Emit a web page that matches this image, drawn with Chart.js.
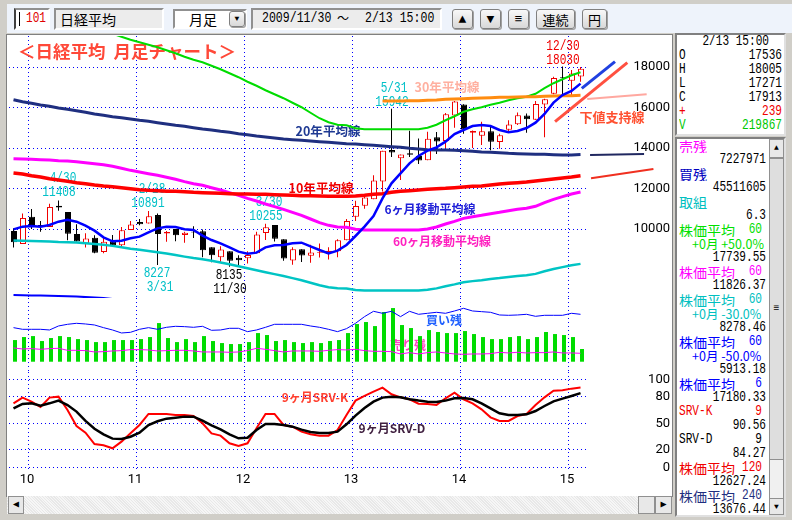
<!DOCTYPE html>
<html lang="ja">
<head>
<meta charset="utf-8">
<title>日経平均 月足チャート</title>
<script src="https://cdn.jsdelivr.net/npm/chart.js@4"></script>
<style>
html, body { margin: 0; padding: 0; }
body { width: 792px; height: 520px; overflow: hidden; position: relative; background: #d0cec8;
  font-family: "Liberation Mono", monospace; font-size: 15px; color: #000; }
.abs { position: absolute; box-sizing: border-box; white-space: nowrap; }
.sq { transform: scaleX(0.74); transform-origin: left center; display: inline-block; }
.sqr { transform: scaleX(0.74); transform-origin: right center; display: inline-block; }
#toolbar { left: 7px; top: 4px; width: 785px; height: 29px; background: #eef3fb; }
.well { background: #ececec; border: 2px solid; border-color: #909090 #fff #fff #909090; line-height: 18px; padding-left: 4px; }
.btn { background: linear-gradient(#f8f8f8, #d8d8d8); border: 1px solid #808080; border-radius: 3px; text-align: center; line-height: 19px; font-size: 13px; box-shadow: 1px 1px 0 #a0a0a0; }
#plot { left: 6px; top: 34px; width: 667px; height: 463px; background: #fff; border: 1px solid #808080; }
canvas { position: absolute; left: 0; }
#hbar { left: 7px; top: 496px; width: 665px; height: 18px;
  background: repeating-linear-gradient(45deg, #f6f6f6 0 1px, #e8e8e8 1px 2px); }
.sbtn { background: #e8e8e8; border: 1px solid #909090; text-align: center; font-size: 10px; line-height: 16px; }
.panel { background: #fff; border: 2px solid; border-color: #808080 #e0e0e0 #e0e0e0 #808080; overflow: hidden; }
.row { position: absolute; left: 0; height: 14px; line-height: 14px; white-space: nowrap; overflow: hidden; }
.row span { position: absolute; }
.cjk { font-family: "Noto Sans CJK JP", sans-serif; font-size: 14px; }
.mix { font-family: "Noto Sans CJK JP", sans-serif; font-size: 12.5px; }
</style>
</head>
<body>
<div class="abs" id="toolbar"></div>
<div class="abs well" style="left:14px;top:8px;width:36px;height:22px;background:#fff;padding-left:4px;border-left-color:#404040;"><span class="sq" style="color:#e00000;margin-left:6px;">101</span></div>
<div class="abs" style="left:19px;top:12px;width:1px;height:14px;background:#000;"></div>
<div class="abs well cjk" style="left:54px;top:8px;width:110px;height:22px;">日経平均</div>
<div class="abs well cjk" style="left:173px;top:9px;width:74px;height:20px;background:#fff;padding-left:14px;line-height:16px;">月足</div>
<div class="abs btn" style="left:229px;top:11px;width:16px;height:16px;font-size:8px;line-height:14px;">▼</div>
<div class="abs well" style="left:251px;top:8px;width:191px;height:22px;"></div>
<div class="abs sq" style="left:262px;top:10px;line-height:18px;transform:scaleX(0.77);">2009/11/30</div>
<div class="abs cjk" style="left:337px;top:9px;line-height:18px;font-size:12px;">～</div>
<div class="abs sq" style="left:365px;top:10px;line-height:18px;transform:scaleX(0.77);">2/13 15:00</div>
<div class="abs btn" style="left:452px;top:9px;width:21px;height:20px;">▲</div>
<div class="abs btn" style="left:480px;top:9px;width:21px;height:20px;">▼</div>
<div class="abs btn" style="left:508px;top:9px;width:21px;height:20px;">≡</div>
<div class="abs btn cjk" style="left:536px;top:9px;width:39px;height:20px;font-size:13px;">連続</div>
<div class="abs btn cjk" style="left:582px;top:9px;width:25px;height:20px;font-size:13px;">円</div>

<div class="abs" id="plot"></div>
<canvas id="priceChart" width="670" height="262" style="top:36px;width:670px;height:262px"></canvas>
<canvas id="volumeChart" width="670" height="74" style="top:298px;width:670px;height:74px"></canvas>
<canvas id="srvChart" width="670" height="118" style="top:372px;width:670px;height:118px"></canvas>

<div class="abs" id="hbar"></div>
<div class="abs sbtn" style="left:8px;top:496px;width:16px;height:18px;">◀</div>
<div class="abs sbtn" style="left:638px;top:496px;width:17px;height:18px;"></div>
<div class="abs sbtn" style="left:655px;top:496px;width:17px;height:18px;">▶</div>

<div class="abs panel" id="quote" style="left:675px;top:33px;width:111px;height:103px;"></div>
<div class="abs panel" id="list" style="left:675px;top:137px;width:111px;height:380px;"></div>
<div class="abs sbtn" style="left:769px;top:139px;width:15px;height:376px;background:#f0f0f0;"></div>
<div class="abs sbtn" style="left:769px;top:139px;width:15px;height:19px;font-size:8px;">▲</div>
<div class="abs sbtn" style="left:769px;top:158px;width:15px;height:302px;background:#dedede;line-height:300px;">≡</div>
<div class="abs sbtn" style="left:769px;top:498px;width:15px;height:17px;font-size:8px;">▼</div>

<script>
// monthly candles, 2009/11 to 2015/02
const opens = [9900, 9260, 10609, 10200, 10100, 11150, 10840, 9750, 9290, 9570, 8860, 9400, 9200, 9950, 10350, 10270,
    10690, 9780, 10000, 9700, 9870, 9890, 9100, 8600, 8900, 8580, 8550, 8800, 9800, 10200, 9500, 8450,
    9000, 8680, 8830, 8850, 8900, 9450, 10600, 11150, 11470, 12340, 13900, 13500, 13740, 13600, 13400, 14530,
    14350, 15600, 16147, 14750, 14600, 14830, 14300, 14900, 15170, 15600, 15400, 16150, 16680, 17500, 17325, 17536];
const highs = [10034, 10767, 10982, 10400, 11250, 11408, 10840, 10238, 9790, 9690, 9550, 9700, 10100, 10400, 10500, 10891,
    10770, 9900, 10000, 9870, 10137, 9970, 9100, 9152, 8900, 8700, 8900, 9870, 10255, 10200, 9500, 9100,
    9000, 9220, 9288, 9100, 9500, 10500, 11400, 11700, 12650, 13860, 15942, 13680, 14850, 14467, 14800, 14790,
    15727, 16320, 16164, 14870, 15300, 15100, 14700, 15376, 15759, 15700, 16321, 16430, 17520, 18030, 17850, 18005];
const lows = [9090, 9260, 10000, 9867, 10100, 10900, 9450, 9380, 9091, 8800, 8800, 9200, 9100, 9950, 10180, 10270,
    8227, 9375, 9400, 9318, 9550, 8600, 8359, 8343, 8135, 8160, 8300, 8800, 9460, 9380, 8430, 8238,
    8365, 8328, 8595, 8500, 8600, 9450, 10400, 11000, 11470, 11850, 13555, 12415, 13560, 13210, 13400, 13700,
    14000, 15000, 14700, 13995, 14150, 13885, 13964, 14800, 15131, 14753, 15400, 14529, 16650, 16600, 16592, 17271];
const closes = [9345, 10546, 10198, 10126, 11089, 11057, 9768, 9382, 9537, 8824, 9369, 9202, 9937, 10228, 10237, 10624,
    9755, 9849, 9693, 9816, 9833, 8955, 8700, 8988, 8434, 8455, 8720, 9723, 10083, 9520, 8542, 9006,
    8695, 8839, 8870, 8928, 9446, 10395, 11138, 11559, 12397, 13860, 13774, 13677, 13668, 13388, 14455, 14327,
    15661, 16291, 14914, 14841, 14827, 14304, 14632, 15162, 15620, 15424, 16173, 16413, 17459, 17450, 17674, 17913];

// moving averages
const ma6 = [9984, 10116, 10149, 10116, 10198, 10363, 10461, 10363, 10165, 9918, 9589, 9391, 9424, 9540, 9622, 9836,
    10033, 10116, 10099, 9984, 9951, 9671, 9457, 9293, 9095, 8881, 8782, 8832, 9095, 9194, 9210, 9293,
    9326, 9145, 8963, 8799, 8931, 9210, 9655, 10116, 10642, 11515, 12255, 12749, 13243, 13605, 13869, 14033,
    14313, 14692, 14889, 15087, 15136, 15087, 14889, 14774, 14840, 14988, 15251, 15679, 16239, 16617, 16815, 17180];
const ma60 = [13473, 13457, 13441, 13424, 13408, 13375, 13358, 13325, 13276, 13227, 13177, 13095, 12996, 12897, 12815, 12733,
    12650, 12552, 12453, 12338, 12239, 12157, 12041, 11926, 11795, 11663, 11515, 11383, 11235, 11103, 10972, 10823,
    10675, 10494, 10313, 10181, 10099, 10083, 9984, 9951, 9951, 9951, 9951, 9951, 9951, 9951, 10000, 10099,
    10247, 10379, 10527, 10609, 10675, 10758, 10823, 10906, 10972, 11021, 11120, 11301, 11465, 11597, 11729, 11827];
const ma60Plus50 = [20210, 20186, 20162, 20136, 20112, 20063, 20037, 19988, 19914, 19841, 19766, 19643, 19494, 19346, 19223, 19100,
    18975, 18828, 18680, 18507, 18359, 18236, 18062, 17889, 17693, 17495, 17273, 17075, 16853, 16655, 16458, 16235,
    16013, 15741, 15470, 15272, 15149, 15125, 14976, 14927, 14927, 14927, 14927, 14927, 14927, 14927, 15000, 15149,
    15371, 15569, 15791, 15914, 16013, 16137, 16235, 16359, 16458, 16532, 16680, 16952, 17198, 17396, 17594, 17740];
const ma60Minus30 = [9431, 9420, 9409, 9397, 9386, 9363, 9351, 9328, 9293, 9259, 9224, 9167, 9097, 9028, 8971, 8913,
    8855, 8786, 8717, 8637, 8567, 8510, 8429, 8348, 8257, 8164, 8061, 7968, 7865, 7772, 7680, 7576,
    7473, 7346, 7219, 7127, 7069, 7058, 6989, 6966, 6966, 6966, 6966, 6966, 6966, 6966, 7000, 7069,
    7173, 7265, 7369, 7426, 7473, 7531, 7576, 7634, 7680, 7715, 7784, 7911, 8026, 8118, 8210, 8278];
const ma60Minus50 = [6737, 6729, 6721, 6712, 6704, 6688, 6679, 6663, 6638, 6614, 6589, 6548, 6498, 6449, 6408, 6367,
    6325, 6276, 6227, 6169, 6120, 6079, 6021, 5963, 5898, 5832, 5758, 5692, 5618, 5552, 5486, 5412,
    5338, 5247, 5157, 5091, 5050, 5042, 4992, 4976, 4976, 4976, 4976, 4976, 4976, 4976, 5000, 5050,
    5124, 5190, 5264, 5305, 5338, 5379, 5412, 5453, 5486, 5511, 5560, 5651, 5733, 5799, 5865, 5913];
const ma120 = [12766, 12716, 12634, 12568, 12486, 12420, 12354, 12288, 12239, 12173, 12124, 12091, 12041, 11992, 11943, 11910,
    11893, 11860, 11860, 11844, 11811, 11795, 11778, 11762, 11745, 11729, 11729, 11712, 11712, 11696, 11679, 11663,
    11646, 11646, 11630, 11614, 11614, 11614, 11630, 11663, 11712, 11745, 11811, 11860, 11893, 11926, 11959, 11992,
    12009, 12041, 12074, 12107, 12124, 12173, 12223, 12255, 12288, 12321, 12371, 12420, 12469, 12519, 12568, 12627];
const ma240 = [16387, 16288, 16206, 16124, 16058, 15975, 15910, 15844, 15761, 15679, 15613, 15547, 15498, 15432, 15366, 15317,
    15251, 15185, 15120, 15070, 15004, 14938, 14889, 14823, 14774, 14708, 14659, 14593, 14543, 14494, 14445, 14412,
    14379, 14346, 14313, 14280, 14247, 14214, 14198, 14165, 14132, 14099, 14066, 14033, 13984, 13951, 13918, 13901,
    13901, 13885, 13869, 13836, 13803, 13786, 13770, 13737, 13720, 13704, 13687, 13687, 13671, 13655, 13655, 13676];
// starts at the 2013/04 candle
const ma360Start = 41;
const ma360 = [16321, 16321, 16321, 16338, 16338, 16354, 16370, 16403, 16420, 16436, 16453, 16469, 16486, 16502, 16502, 16519,
    16535, 16535, 16552, 16568, 16584, 16584, 16601];

// lines drawn by hand past the last candle: [month, price, month, price]
const handBlue = [63.14, 16948, 66.83, 18262];
const handSupport = [60.17, 15299, 68.2, 18212];
const hand30y = [63.75, 16420, 70.35, 16652];
const hand20y = [64.06, 13654, 70.06, 13704];
const hand10y = [64.17, 12504, 71.1, 12963];

// volume panel
const volumes = [375000, 427000, 444000, 358000, 410000, 444000, 427000, 392000, 375000, 340000, 340000, 375000, 375000, 375000, 392000, 427000,
    669000, 410000, 340000, 392000, 340000, 444000, 358000, 323000, 306000, 306000, 340000, 496000, 462000, 358000, 375000, 340000,
    323000, 340000, 323000, 358000, 375000, 496000, 652000, 687000, 617000, 860000, 929000, 635000, 583000, 444000, 548000, 514000,
    496000, 496000, 531000, 479000, 427000, 392000, 392000, 427000, 444000, 392000, 427000, 514000, 479000, 462000, 427000, 219867];
const buyRemain = [39510, 38760, 38760, 38760, 38460, 40260, 41010, 41460, 41160, 40710, 39510, 38460, 37110, 37410, 38760, 39510,
    38760, 39660, 40110, 39960, 39660, 40110, 38310, 38460, 39210, 39210, 37710, 38460, 39660, 41010, 41010, 41010,
    41010, 40260, 39660, 38760, 37710, 39060, 41460, 44460, 46860, 45960, 46860, 44460, 46860, 45510, 45960, 46410,
    45960, 47010, 48210, 47010, 46710, 46410, 45210, 45060, 45210, 45510, 44610, 45060, 45060, 45060, 45960, 45512];
const sellRemain = [8830, 8530, 8630, 8430, 8630, 8730, 8130, 8130, 8030, 7630, 7730, 7930, 8030, 8330, 8330, 8230,
    7930, 8030, 8130, 8130, 7930, 7630, 7630, 7630, 7530, 7630, 8030, 8730, 8430, 8030, 7630, 7930,
    7930, 7930, 7830, 8130, 8330, 8230, 8430, 8030, 7830, 7830, 7730, 7030, 7430, 7030, 7430, 7630,
    7330, 7030, 6930, 7030, 7030, 7130, 7530, 7330, 7530, 7330, 7430, 7430, 7630, 7330, 7330, 7228];

// SRV oscillator
const srvK = [72.7, 79.2, 74.6, 68.6, 79.2, 80.3, 65.2, 47.0, 39.4, 26.5, 25.0, 21.6, 29.2, 38.6, 48.1, 60.6,
    60.6, 60.6, 59.5, 59.5, 58.3, 50.0, 38.6, 36.0, 27.3, 24.2, 27.3, 44.3, 60.6, 60.6, 48.1, 46.2,
    40.5, 37.5, 36.0, 36.0, 42.4, 59.5, 75.8, 81.1, 86.0, 90.5, 83.0, 79.5, 77.3, 72.3, 72.0, 70.8,
    78.4, 84.8, 77.3, 72.7, 65.9, 56.8, 52.7, 52.7, 58.3, 60.6, 70.8, 79.5, 87.1, 87.5, 89.4, 90.56];
const srvD = [67.0, 72.0, 72.7, 70.1, 72.7, 75.8, 70.8, 63.3, 52.7, 43.9, 37.5, 32.6, 32.2, 34.8, 39.4, 48.1,
    52.3, 55.3, 56.4, 57.6, 57.6, 53.0, 47.7, 43.2, 37.5, 33.0, 33.7, 42.4, 49.2, 49.2, 48.1, 46.2,
    42.8, 40.2, 39.0, 39.0, 40.5, 48.9, 58.7, 67.4, 74.6, 79.2, 80.3, 79.5, 77.3, 75.8, 74.6, 74.2,
    75.8, 78.4, 78.8, 77.3, 72.7, 67.0, 61.4, 59.5, 59.5, 60.2, 64.0, 69.7, 75.0, 78.0, 81.1, 84.27];

const yearLabels = ['10', '11', '12', '13', '14', '15'];
const priceTicks = [10000, 12000, 14000, 16000, 18000];
const srvTicks = [0, 20, 50, 80, 100];

// side panels
const quoteRows = [['O', '17536', '#000'], ['H', '18005', '#000'], ['L', '17271', '#000'],
    ['C', '17913', '#000'], ['+', '239', '#f00000'], ['V', '219867', '#00c800']];
const listRows = [
    ['売残', '', '#ff00ff'], ['', '7227971', '#000'],
    ['買残', '', '#0000c0'], ['', '45511605', '#000'],
    ['取組', '', '#00c0c0'], ['', '6.3', '#000'],
    ['株価平均', '60', '#00e000'], ['>+0月 +50.0%', '', '#00e000'], ['', '17739.55', '#000'],
    ['株価平均', '60', '#ff00ff'], ['', '11826.37', '#000'],
    ['株価平均', '60', '#00c0c0'], ['>+0月 -30.0%', '', '#00c0c0'], ['', '8278.46', '#000'],
    ['株価平均', '60', '#0000ff'], ['>+0月 -50.0%', '', '#0000ff'], ['', '5913.18', '#000'],
    ['株価平均', '6', '#0000ff'], ['', '17180.33', '#000'],
    ['SRV-K', '9', '#f00000'], ['', '90.56', '#000'],
    ['SRV-D', '9', '#000'], ['', '84.27', '#000'],
    ['株価平均', '120', '#f00000'], ['', '12627.24', '#000'],
    ['株価平均', '240', '#1f2f80'], ['', '13676.44', '#000']
];

const tickFont = 'Roboto, sans-serif';
const mono = '"Liberation Mono", monospace';
const jp = '"Noto Sans CJK JP", sans-serif';

function series(values, start) {
    return values.map((y, i) => ({ x: i + (start || 0), y: y }));
}

function handLine(p, color, width) {
    return {
        type: 'line', data: [{ x: p[0], y: p[1] }, { x: p[2], y: p[3] }],
        borderColor: color, borderWidth: width, pointRadius: 0, clip: false, order: 1
    };
}

function maLine(values, color, width, order, start) {
    return {
        type: 'line', data: series(values, start), borderColor: color, borderWidth: width,
        pointRadius: 0, tension: 0, order: order
    };
}

const candleColor = (i) => closes[i] >= opens[i] ? '#f00000' : '#000';

const wicks = {
    type: 'bar', grouped: false, order: 21, barThickness: 1, inflateAmount: 0,
    data: highs.map((h, i) => ({ x: i, y: [lows[i], h] })),
    backgroundColor: highs.map((h, i) => candleColor(i))
};
const bodies = {
    type: 'bar', grouped: false, order: 20, barThickness: 6, inflateAmount: 0, borderWidth: 1, borderSkipped: false,
    data: opens.map((o, i) => ({ x: i + 0.055, y: [o, closes[i]] })),
    backgroundColor: opens.map((o, i) => closes[i] >= o ? '#fff' : '#000'),
    borderColor: opens.map((o, i) => candleColor(i))
};

// text that sits on the chart, drawn under the lines
const notesPlugin = {
    id: 'notes',
    beforeDatasetsDraw(chart, args, opts) {
        const ctx = chart.ctx;
        ctx.textAlign = 'center';
        ctx.textBaseline = 'middle';
        opts.items.forEach(n => {
            ctx.save();
            ctx.font = n[4];
            ctx.fillStyle = n[3];
            ctx.translate(n[1], n[2] - opts.top);
            if (n[4] === tag) ctx.scale(0.74, 1);
            ctx.fillText(n[0], 0, 0);
            ctx.restore();
        });
    }
};

const cyanNum = '#00c0c8';
const tag = '15px ' + mono;
const bold = (s) => 'bold ' + s + 'px ' + jp;

const priceNotes = [
    ['＜日経平均  月足チャート＞', 127, 51, '#ff4838', bold(17.5)],
    ['4/30', 63, 178, cyanNum, tag], ['11408', 59, 192, cyanNum, tag],
    ['2/28', 152, 189, cyanNum, tag], ['10891', 148, 203, cyanNum, tag],
    ['8227', 157, 273, cyanNum, tag], ['3/31', 160, 287, cyanNum, tag],
    ['8135', 229, 275, '#000', tag], ['11/30', 230, 289, '#000', tag],
    ['3/30', 269, 202, cyanNum, tag], ['10255', 266, 216, cyanNum, tag],
    ['5/31', 394, 88, cyanNum, tag], ['15942', 392, 102, cyanNum, tag],
    ['12/30', 563, 46, '#f00000', tag], ['18030', 563, 60, '#f00000', tag],
    ['30年平均線', 447, 87, '#ffb0a0', bold(12.5)],
    ['20年平均線', 328, 131, '#1f3a93', bold(12.5)],
    ['10年平均線', 321, 188, '#f00000', bold(12.5)],
    ['6ヶ月移動平均線', 430, 209, '#2020d8', bold(12)],
    ['60ヶ月移動平均線', 442, 241, '#ff20c0', bold(12)],
    ['下値支持線', 612, 117, '#ff5030', bold(13)]
];
const volumeNotes = [
    ['買い残', 444, 320, '#2060ff', bold(12)],
    ['売り残', 408, 345, '#ff40c0', bold(12)]
];
const srvNotes = [
    ['9ヶ月SRV-K', 315, 397, '#ff4030', bold(12)],
    ['9ヶ月SRV-D', 392, 428, '#402040', bold(12)]
];

function noPad(scale) {
    scale.paddingTop = 0; scale.paddingBottom = 0; scale.paddingLeft = 0; scale.paddingRight = 0;
}

function xAxis(showLabels) {
    return {
        type: 'linear', min: -0.5, max: 63.72, offset: false,
        border: { display: false, dash: [1, 3] },
        grid: { color: '#0000ff', drawTicks: false, offset: false, lineWidth: 1 },
        afterBuildTicks: s => { s.ticks = yearLabels.map((y, k) => ({ value: 2 + 12 * k - 1 / 3 })); },
        afterFit: s => { s.height = showLabels ? 21 : 0; noPad(s); },
        ticks: {
            display: showLabels, autoSkip: false, maxRotation: 0, padding: 3, labelOffset: -1.5, color: '#000',
            font: { family: tickFont, size: 13 },
            callback: (v, i) => yearLabels[i]
        }
    };
}

function valueAxis(min, max, tickValues, padding) {
    return {
        type: 'linear', position: 'right', min: min, max: max,
        border: { display: false, dash: [1, 3] },
        grid: { color: '#0000ff', drawTicks: false, lineWidth: 1 },
        afterBuildTicks: s => { s.ticks = tickValues.map(v => ({ value: v })); },
        afterFit: s => { s.width = 83; noPad(s); },
        ticks: {
            padding: padding, crossAlign: 'far', color: '#000', autoSkip: false,
            font: { family: tickFont, size: 13 },
            callback: v => String(v)
        }
    };
}

function makeChart(id, datasets, scales, notes, top, rightPad) {
    return new Chart(document.getElementById(id), {
        type: 'bar',
        data: { datasets: datasets },
        options: {
            responsive: false, animation: false, devicePixelRatio: 1,
            layout: { padding: { left: 9, right: rightPad, top: 0, bottom: 0 } },
            scales: scales,
            plugins: {
                legend: { display: false }, tooltip: { enabled: false },
                notes: { items: notes, top: top }
            }
        },
        plugins: [notesPlugin]
    });
}

makeChart('priceChart', [
    maLine(ma6, '#0000ff', 2.5, 2),
    maLine(ma360, '#ff8c10', 3, 3, ma360Start),
    maLine(ma60Plus50, '#00dc00', 2, 4),
    maLine(ma240, '#1f2f80', 3, 5),
    maLine(ma120, '#ff0000', 3.5, 6),
    maLine(ma60, '#ff00ff', 3, 7),
    maLine(ma60Minus30, '#00c4c4', 2.5, 8),
    maLine(ma60Minus50, '#0000ff', 2, 9),
    handLine(handBlue, '#2040e0', 3),
    handLine(handSupport, '#ff5040', 3),
    handLine(hand30y, '#ffa8a0', 2),
    handLine(hand20y, '#202860', 2),
    handLine(hand10y, '#f03020', 2),
    wicks, bodies
], { x: xAxis(false), y: valueAxis(6593, 19531, priceTicks, 41.5) }, priceNotes, 36, 0);

makeChart('volumeChart', [
    { type: 'line', data: series(buyRemain), yAxisID: 'yBuy', borderColor: '#0000ff', borderWidth: 1, pointRadius: 0, order: 1 },
    { type: 'line', data: series(sellRemain), yAxisID: 'ySell', borderColor: '#ff00ff', borderWidth: 1, pointRadius: 0, order: 2 },
    { type: 'bar', data: volumes.map((v, i) => ({ x: i + 0.167, y: v })), yAxisID: 'y', grouped: false, barThickness: 4, inflateAmount: 0, backgroundColor: '#00dc00', order: 3 }
], {
    x: xAxis(false),
    y: { type: 'linear', display: false, min: -178000, max: 1103000 },
    yBuy: { type: 'linear', display: false, min: 19550, max: 52850 },
    ySell: { type: 'linear', display: false, min: 1620, max: 23820 }
}, volumeNotes, 298, 83);

makeChart('srvChart', [
    maLine(srvD, '#000', 2.5, 1),
    maLine(srvK, '#ff0000', 2, 2)
], { x: xAxis(true), y: valueAxis(-1.9, 108.3, srvTicks, 56) }, srvNotes, 372, 0);

// side panels are plain rows on the same 14px pitch
function addRow(parent, y, left, text, width, color, leftX) {
    const row = document.createElement('div');
    row.className = 'row';
    row.style.top = y + 'px';
    row.style.color = color;
    row.style.width = width + 'px';
    const a = document.createElement('span');
    a.textContent = left;
    a.style.left = (leftX || 2) + 'px';
    a.className = /[^\x00-\x7f]/.test(left) ? (leftX ? 'mix' : 'cjk') : 'sq';
    const b = document.createElement('span');
    b.textContent = text;
    b.style.right = '0';
    b.className = 'sqr';
    row.appendChild(a);
    row.appendChild(b);
    parent.appendChild(row);
}

const quote = document.getElementById('quote');
addRow(quote, 0, '', '2/13 15:00', 92, '#000');
quoteRows.forEach((r, i) => addRow(quote, 14 + i * 14, r[0], r[1], 105, r[2]));

const list = document.getElementById('list');
listRows.forEach((r, i) => {
    const indent = r[0].charAt(0) === '>';
    const label = indent ? r[0].slice(1) : r[0];
    addRow(list, i * 14, label, r[1], 89, r[2], indent ? 15 : 0);
});
// the period figure on a label row stops short of the value column
list.querySelectorAll('.row').forEach(row => {
    if (row.children[0].textContent) row.children[1].style.right = '4px';
});
</script>
</body>
</html>
